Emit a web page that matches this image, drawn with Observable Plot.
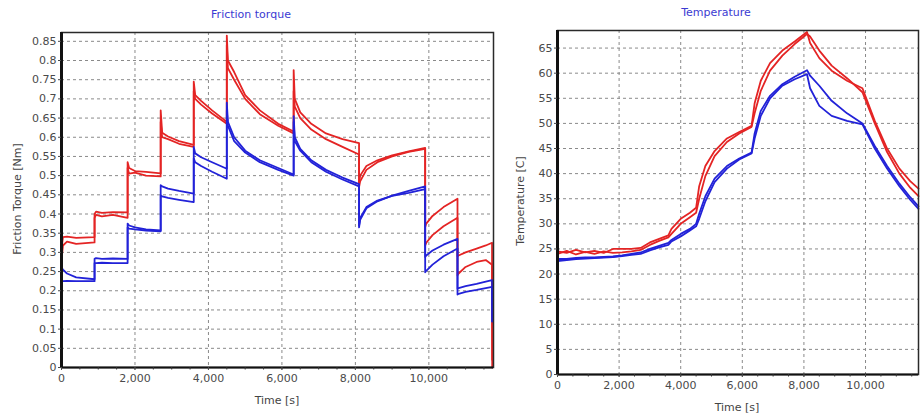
<!DOCTYPE html>
<html>
<head>
<meta charset="utf-8">
<script src="https://cdn.jsdelivr.net/npm/d3@7"></script>
<script src="https://cdn.jsdelivr.net/npm/@observablehq/plot@0.6"></script>
<style>
  html, body { margin: 0; padding: 0; background: #fff; }
  #wrap { position: relative; width: 923px; height: 413px; overflow: hidden; font-family: "DejaVu Sans", sans-serif; }
  .panel { position: absolute; top: 0; }
  .title { position: absolute; color: #3b3bd2; font-size: 11px; white-space: nowrap; transform: translateX(-50%); }
  .xlab { position: absolute; color: #444; font-size: 11px; white-space: nowrap; transform: translateX(-50%); }
  .ylab { position: absolute; color: #444; font-size: 11px; white-space: nowrap; transform: translate(-50%, -50%) rotate(-90deg); }
</style>
</head>
<body>
<div id="wrap">
  <div id="left" class="panel" style="left:0px"></div>
  <div id="right" class="panel" style="left:500px"></div>
  <div class="title" style="left:251px; top:8px">Friction torque</div>
  <div class="title" style="left:716px; top:6px">Temperature</div>
  <div class="xlab" style="left:277px; top:394px">Time [s]</div>
  <div class="xlab" style="left:737px; top:401px">Time [s]</div>
  <div class="ylab" style="left:17px; top:199px">Friction Torque [Nm]</div>
  <div class="ylab" style="left:520px; top:201px">Temperature [C]</div>
</div>
<script>
// ---------- tick labels ----------
const timeTicks = [0, 2000, 4000, 6000, 8000, 10000];
const minorTimeTicks = [0, 500, 1000, 1500, 2000, 2500, 3000, 3500, 4000, 4500, 5000, 5500, 6000, 6500, 7000, 7500, 8000, 8500, 9000, 9500, 10000, 10500, 11000, 11500];
const torqueTicks = [0, 0.05, 0.1, 0.15, 0.2, 0.25, 0.3, 0.35, 0.4, 0.45, 0.5, 0.55, 0.6, 0.65, 0.7, 0.75, 0.8, 0.85];
const tempTicks = [0, 5, 10, 15, 20, 25, 30, 35, 40, 45, 50, 55, 60, 65];

// ---------- friction torque (time in s, torque in Nm) ----------
const torqueTime = [
  0, 40, 150, 400, 900,
  900, 940, 1100, 1400, 1800,
  1800, 1840, 2000, 2300, 2700,
  2700, 2740, 2900, 3200, 3600,
  3600, 3640, 3800, 4100, 4500,
  4500, 4530, 4700, 5000, 5400, 5900, 6320,
  6320, 6350, 6500, 6800, 7200, 7650, 8100,
  8100, 8130, 8300, 8600, 9000, 9450, 9900,
  9900, 9930, 10100, 10400, 10780,
  10780, 10810, 11000, 11300, 11550, 11720,
  11725
];
const torqueRedA = [
  0.31, 0.34, 0.341, 0.338, 0.34,
  0.40, 0.406, 0.403, 0.405, 0.404,
  0.535, 0.52, 0.512, 0.51, 0.506,
  0.67, 0.612, 0.602, 0.59, 0.58,
  0.745, 0.71, 0.695, 0.67, 0.64,
  0.865, 0.80, 0.77, 0.71, 0.67, 0.635, 0.615,
  0.775, 0.70, 0.665, 0.635, 0.61, 0.595, 0.585,
  0.48, 0.50, 0.525, 0.54, 0.553, 0.563, 0.572,
  0.366, 0.375, 0.395, 0.418, 0.44,
  0.29, 0.292, 0.30, 0.31, 0.318, 0.325,
  0.0
];
const torqueRedB = [
  0.28, 0.318, 0.328, 0.322, 0.326,
  0.39, 0.398, 0.394, 0.398, 0.39,
  0.52, 0.505, 0.508, 0.50, 0.498,
  0.64, 0.60, 0.595, 0.583, 0.575,
  0.72, 0.70, 0.685, 0.662, 0.635,
  0.84, 0.78, 0.75, 0.70, 0.66, 0.63, 0.61,
  0.72, 0.68, 0.65, 0.62, 0.595, 0.575, 0.555,
  0.47, 0.485, 0.515, 0.535, 0.55, 0.562, 0.57,
  0.318, 0.325, 0.345, 0.368, 0.39,
  0.24, 0.245, 0.262, 0.275, 0.28, 0.268,
  0.02
];
const torqueBlueA = [
  0.26, 0.255, 0.245, 0.235, 0.23,
  0.283, 0.285, 0.283, 0.284, 0.283,
  0.375, 0.37, 0.365, 0.36, 0.357,
  0.475, 0.472, 0.466, 0.46, 0.453,
  0.575, 0.558, 0.548, 0.535, 0.518,
  0.69, 0.64, 0.60, 0.565, 0.54, 0.52, 0.503,
  0.655, 0.60, 0.57, 0.54, 0.515, 0.495, 0.478,
  0.365, 0.385, 0.415, 0.433, 0.448, 0.46, 0.472,
  0.288, 0.292, 0.305, 0.32, 0.335,
  0.205, 0.207, 0.212, 0.218, 0.224, 0.228,
  0.12
];
const torqueBlueB = [
  0.225, 0.225, 0.226, 0.225, 0.225,
  0.272, 0.272, 0.273, 0.272, 0.272,
  0.365, 0.362, 0.36, 0.357, 0.355,
  0.448, 0.446, 0.442, 0.437, 0.431,
  0.545, 0.535, 0.525, 0.51, 0.492,
  0.67, 0.63, 0.59, 0.56, 0.535, 0.515, 0.50,
  0.64, 0.59, 0.565, 0.535, 0.51, 0.49, 0.472,
  0.37, 0.39, 0.418, 0.435, 0.447, 0.455, 0.465,
  0.248, 0.252, 0.268, 0.29, 0.31,
  0.19, 0.192, 0.197, 0.202, 0.207, 0.21,
  0.12
];

// ---------- temperature (time in s, temperature in C) ----------
const tempTime = [
  0, 300, 600, 900, 1200, 1500, 1800, 2100, 2400, 2700,
  3000, 3300, 3600, 3700, 4000, 4300, 4500, 4600, 4800, 5100,
  5500, 5900, 6300, 6400, 6600, 6900, 7300, 7700, 8100, 8200,
  8500, 8900, 9400, 9900, 10300, 10700, 11100, 11450, 11720
];
const tempRedA = [
  24.5, 24.2, 24.8, 24.3, 24.6, 24.2, 25.0, 25.0, 25.0, 25.2,
  26.3, 27.0, 27.7, 29.0, 31.0, 32.2, 33.2, 37.5, 41.5, 44.5,
  47.0, 48.3, 49.5, 54.0, 58.5, 62.0, 64.5, 66.3, 68.2, 66.0,
  63.0, 60.5, 58.5, 57.0, 50.5, 45.0, 41.0, 38.5, 37.0
];
const tempRedB = [
  24.0, 24.6, 23.9, 24.4, 24.0, 24.5, 24.2, 24.3, 24.5, 24.8,
  25.8, 26.6, 27.3, 28.0, 30.0, 31.3, 32.2, 35.0, 39.5, 43.5,
  46.3, 48.0, 49.3, 52.0, 56.5, 60.5, 63.5, 65.8, 67.8, 67.3,
  64.5, 61.5, 59.0, 56.2, 50.0, 44.3, 40.0, 37.2, 35.5
];
const tempBlueA = [
  23.0, 23.0, 23.2, 23.3, 23.3, 23.4, 23.5, 23.7, 24.0, 24.3,
  25.0, 25.6, 26.2, 26.8, 28.0, 29.0, 30.0, 32.0, 35.5, 39.0,
  41.5, 43.0, 44.2, 48.0, 52.5, 55.5, 57.8, 59.3, 60.6, 59.5,
  57.5, 54.5, 52.0, 50.0, 45.5, 41.5, 38.0, 35.3, 33.5
];
const tempBlueB = [
  22.6, 22.8, 23.0, 23.1, 23.2, 23.3, 23.4, 23.6, 23.8, 24.0,
  24.7, 25.3, 25.8, 26.5, 27.5, 28.7, 29.5, 31.0, 34.5, 38.3,
  41.0, 42.8, 44.0, 47.0, 51.5, 55.0, 57.5, 58.8, 59.8, 57.0,
  53.5, 51.5, 50.5, 49.8, 45.0, 41.0, 37.5, 34.8, 33.0
];

// ---------- build tables ----------
const RED = "#e42424", BLUE = "#2222d8";
function rows(time, series) {
  const out = [];
  for (const [name, color, vals] of series) {
    time.forEach((t, i) => out.push({ t, v: vals[i], s: name, c: color }));
  }
  return out;
}
const torqueRows = rows(torqueTime, [
  ["redA", RED, torqueRedA], ["redB", RED, torqueRedB],
  ["blueA", BLUE, torqueBlueA], ["blueB", BLUE, torqueBlueB]
]);
const tempRows = rows(tempTime, [
  ["redA", RED, tempRedA], ["redB", RED, tempRedB],
  ["blueA", BLUE, tempBlueA], ["blueB", BLUE, tempBlueB]
]);

const fmtTime = d3.format(",");
const fmtTorque = d => String(+d.toFixed(2));
const gridStyle = { stroke: "#8a8a8a", strokeOpacity: 1, strokeDasharray: "3,3", strokeWidth: 1 };
const axisStyle = { fontSize: 11, fill: "#4a4a4a" };

function panel(opts) {
  return Plot.plot({
    width: opts.width, height: 413,
    marginLeft: opts.ml, marginRight: opts.mr, marginTop: opts.mt, marginBottom: opts.mb,
    style: { fontFamily: "DejaVu Sans, sans-serif", fontSize: "11px", color: "#4a4a4a", background: "transparent", overflow: "visible" },
    x: { domain: opts.xdom },
    y: { domain: opts.ydom },
    marks: [
      Plot.gridX(timeTicks, gridStyle),
      Plot.gridY(opts.yticks, gridStyle),
      Plot.line(opts.data, { x: "t", y: "v", z: "s", stroke: "c", strokeWidth: 1.8, strokeLinejoin: "round" }),
      Plot.frame({ stroke: "#2a2a2a", strokeWidth: 1.5 }),
      Plot.ruleX([0], { stroke: "#111", strokeWidth: 3 }),
      Plot.ruleY([0], { stroke: "#111", strokeWidth: 2 }),
      Plot.axisX(minorTimeTicks, { tickFormat: () => "", tickSize: 2.5, stroke: "#333", label: null }),
      Plot.axisX(timeTicks, { tickFormat: fmtTime, tickSize: 3, tickPadding: 4, label: null, ...axisStyle }),
      Plot.axisY(opts.yticks, { tickFormat: opts.yfmt, tickSize: 3, tickPadding: 2, label: null, ...axisStyle })
    ]
  });
}

document.getElementById("left").appendChild(panel({
  width: 500, ml: 61, mr: 7, mt: 32, mb: 46,
  xdom: [0, 11760], ydom: [0, 0.873], yticks: torqueTicks, yfmt: fmtTorque, data: torqueRows
}));
document.getElementById("right").appendChild(panel({
  width: 423, ml: 57, mr: 5, mt: 30, mb: 39,
  xdom: [0, 11720], ydom: [0, 68.5], yticks: tempTicks, yfmt: d => String(d), data: tempRows
}));
</script>
</body>
</html>
